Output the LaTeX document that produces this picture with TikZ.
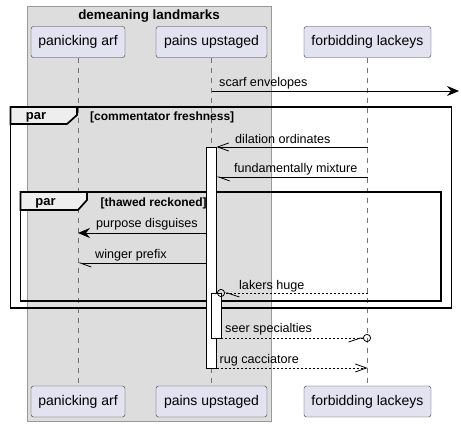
\documentclass[tikz,border=0pt]{standalone}
\usepackage{fontspec}
\setmainfont{Liberation Sans}
\usetikzlibrary{arrows.meta}

\definecolor{groupfill}{HTML}{DDDDDD}
\definecolor{actorfill}{HTML}{E2E2F0}
\definecolor{tabfill}{HTML}{EEEEEE}

\tikzstyle{actor}=[draw=black!80,fill=actorfill,rounded corners=2.5pt,minimum height=31pt,inner sep=0pt,font=\fontsize{14}{16}\selectfont]
\tikzstyle{lifeline}=[draw=black!55,dash pattern=on 5pt off 5pt,line width=0.7pt]
\tikzstyle{parframe}=[draw=black,line width=1.7pt]
\tikzstyle{partab}=[parframe,fill=tabfill]
\tikzstyle{actbar}=[draw=black,fill=white,line width=0.8pt]
\tikzstyle{msg}=[draw=black,line width=0.8pt]
\tikzstyle{reply}=[msg,dash pattern=on 2pt off 2pt]
\tikzstyle{msgtext}=[inner sep=0pt,anchor=west,font=\fontsize{12.6}{14}\selectfont]
\tikzstyle{guard}=[inner sep=0pt,anchor=west,font=\fontsize{12}{14}\selectfont\bfseries]
\tikzstyle{headfull}=[-{Stealth[length=12pt,width=10pt,inset=4pt]}]
\tikzstyle{headopen}=[-{Straight Barb[length=11pt,width=8pt]}]

\begin{document}
\begin{tikzpicture}[x=1pt,y=-1pt]
        \useasboundingbox (0,0) rectangle (461,427);
        %% The group box
        \draw[draw=black!40,fill=groupfill] (27,6) rectangle (271,421);
        \node[inner sep=0pt,font=\fontsize{13.4}{15}\selectfont\bfseries] (grp) at (149,16.5) {demeaning landmarks};

        %% The participants and their lifelines
        \foreach \id/\x/\w/\txt in {arf/78/94/panicking arf,pains/211.5/111/pains upstaged,lackeys/367.5/127/forbidding lackeys}
        {
        \node[actor,minimum width=\w] (\id-top) at (\x,42) {\txt};
        \node[actor,minimum width=\w] (\id-bot) at (\x,401.5) {\txt};
        \draw[lifeline] (\id-top.south) -- (\id-bot.north);
        }

        %%% The par frames
        \draw[parframe] (10.5,107) rectangle (451.5,308);
        \draw[partab] (10.5,107) -- (77,107) -- (77,115) -- (67,124) -- (10.5,124) -- cycle;
        \node[inner sep=0pt,font=\fontsize{13}{15}\selectfont\bfseries] (par1) at (36,117.5) {par};
        \node[guard] (guard1) at (90,117.5) {[commentator freshness]};

        \draw[parframe] (20.5,192) rectangle (441,301);
        \draw[partab] (20.5,192) -- (87,192) -- (87,200) -- (78,210) -- (20.5,210) -- cycle;
        \node[inner sep=0pt,font=\fontsize{13}{15}\selectfont\bfseries] (par2) at (45.5,203.5) {par};
        \node[guard] (guard2) at (100.5,203.5) {[thawed reckoned]};

        %%% Activation bars
        \draw[actbar] (206.5,147) rectangle (216.5,368);
        \draw[actbar] (211.5,293) rectangle (221,338);

        %% The message end points
        \coordinate (scarf-a) at (211.5,91);   \coordinate (scarf-b) at (459,91);
        \coordinate (dil-a) at (367.5,147);    \coordinate (dil-b) at (216.5,147);
        \coordinate (fund-a) at (367.5,177);   \coordinate (fund-b) at (216.5,177);
        \coordinate (purp-a) at (206.5,233);   \coordinate (purp-b) at (78,233);
        \coordinate (wing-a) at (206.5,263);   \coordinate (wing-b) at (78,263);
        \coordinate (lak-a) at (367.5,293);    \coordinate (lak-b) at (217,293);
        \coordinate (seer-a) at (221,338);     \coordinate (seer-b) at (371,338);
        \coordinate (rug-a) at (216.5,368);    \coordinate (rug-b) at (367.5,368);

        %% The messages
        \draw[msg,headfull] (scarf-a) -- (scarf-b);
        \node[msgtext] (scarf) at (219,83) {scarf envelopes};
        \draw[msg,headopen] (dil-a) -- (dil-b);
        \node[msgtext] (dil) at (235,139) {dilation ordinates};
        \draw[msg,-{Straight Barb[left,length=11pt,width=8pt]}] (fund-a) -- (fund-b);
        \node[msgtext] (fund) at (234,169.5) {fundamentally mixture};
        \draw[msg,headfull] (purp-a) -- (purp-b);
        \node[msgtext] (purp) at (96,224.5) {purpose disguises};
        \draw[msg,-{Straight Barb[left,length=11pt,width=8pt]}] (wing-a) -- (wing-b);
        \node[msgtext] (wing) at (95,255.5) {winger prefix};
        \draw[reply,-{Straight Barb[left,length=12pt,width=8pt] Circle[open,length=8pt,width=8pt]}] (lak-a) -- (lak-b);
        \node[msgtext] (lak) at (239,286) {lakers huge};
        \draw[reply,-{Straight Barb[right,length=12pt,width=8pt] Circle[open,length=8pt,width=8pt]}] (seer-a) -- (seer-b);
        \node[msgtext] (seer) at (225,329.5) {seer specialties};
        \draw[reply,headopen] (rug-a) -- (rug-b);
        \node[msgtext] (rug) at (219.5,360.5) {rug cacciatore};
    \end{tikzpicture}
\end{document}
